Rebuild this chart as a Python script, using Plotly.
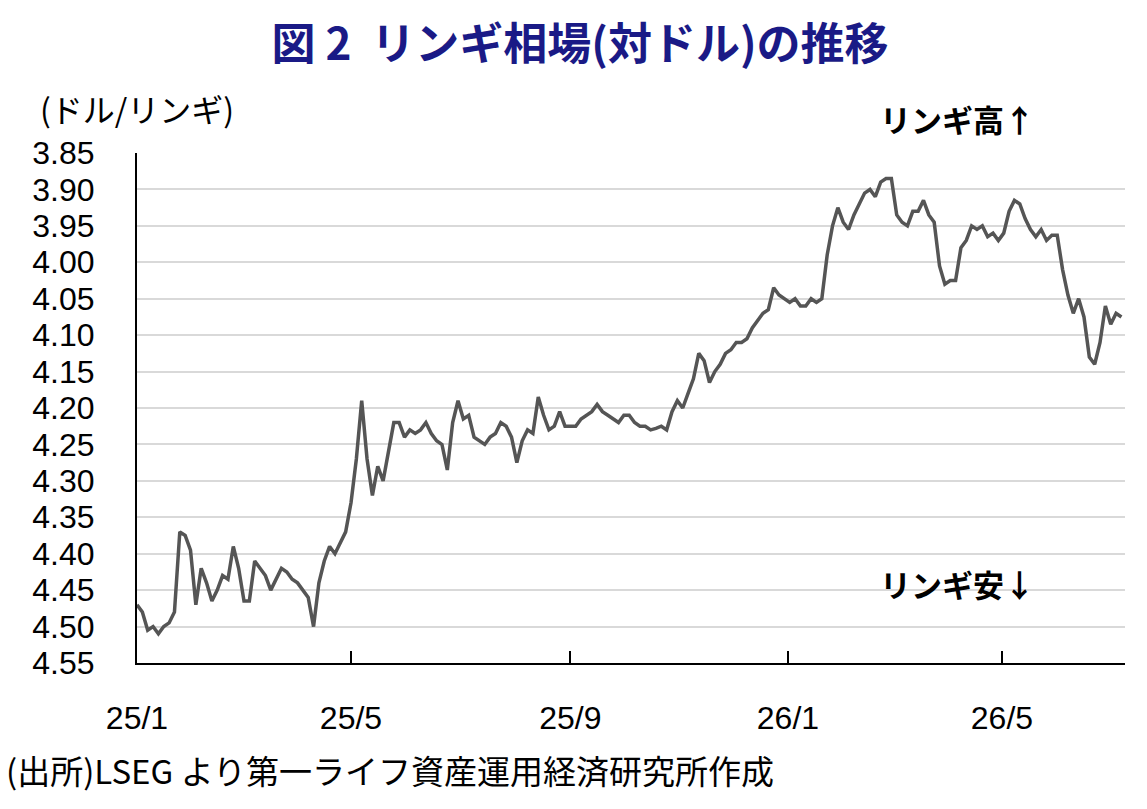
import plotly.graph_objects as go
import pandas as pd

start_date = "2025-01-01"
step = "3D"
rate = [
    4.47, 4.48, 4.505, 4.50, 4.51, 4.50, 4.495, 4.48, 4.37, 4.375,
    4.395, 4.47, 4.42, 4.44, 4.465, 4.45, 4.43, 4.435, 4.39, 4.42,
    4.465, 4.465, 4.41, 4.42, 4.43, 4.45, 4.435, 4.42, 4.425, 4.435,
    4.44, 4.45, 4.46, 4.50, 4.44, 4.41, 4.39, 4.40, 4.385, 4.37,
    4.33, 4.27, 4.19, 4.27, 4.32, 4.28, 4.30, 4.26, 4.22, 4.22,
    4.24, 4.23, 4.235, 4.23, 4.22, 4.235, 4.245, 4.25, 4.285, 4.22,
    4.19, 4.215, 4.21, 4.24, 4.245, 4.25, 4.24, 4.235, 4.22, 4.225,
    4.24, 4.275, 4.245, 4.23, 4.235, 4.185, 4.21, 4.23, 4.225, 4.205,
    4.225, 4.225, 4.225, 4.215, 4.21, 4.205, 4.195, 4.205, 4.21, 4.215,
    4.22, 4.21, 4.21, 4.22, 4.225, 4.225, 4.23, 4.228, 4.225, 4.23,
    4.205, 4.19, 4.20, 4.18, 4.16, 4.125, 4.135, 4.165, 4.15, 4.14,
    4.125, 4.12, 4.11, 4.11, 4.105, 4.09, 4.08, 4.07, 4.065, 4.035,
    4.045, 4.05, 4.055, 4.05, 4.06, 4.06, 4.05, 4.055, 4.05, 3.99,
    3.95, 3.925, 3.945, 3.955, 3.935, 3.92, 3.905, 3.90, 3.91, 3.89,
    3.885, 3.885, 3.935, 3.945, 3.95, 3.93, 3.93, 3.915, 3.935, 3.945,
    4.005, 4.03, 4.025, 4.025, 3.98, 3.97, 3.95, 3.955, 3.95, 3.965,
    3.96, 3.97, 3.96, 3.93, 3.915, 3.92, 3.94, 3.955, 3.965, 3.955,
    3.97, 3.963, 3.963, 4.01, 4.045, 4.07, 4.05, 4.075, 4.13, 4.14,
    4.11, 4.06, 4.085, 4.07, 4.075,
]
dates = pd.date_range(start=start_date, periods=len(rate), freq=step)

y_ticks = [3.85, 3.90, 3.95, 4.00, 4.05, 4.10, 4.15, 4.20, 4.25, 4.30,
           4.35, 4.40, 4.45, 4.50, 4.55]
x_tick_dates = ["2025-01-01", "2025-05-01", "2025-09-01", "2026-01-01", "2026-05-01"]
x_tick_labels = ["25/1", "25/5", "25/9", "26/1", "26/5"]

title_text = "図 2  リンギ相場(対ドル)の推移"
unit_text = "(ドル/リンギ)"
up_text = "リンギ高↑"
down_text = "リンギ安↓"
source_text = "(出所)LSEG より第一ライフ資産運用経済研究所作成"

JP = "Noto Sans CJK JP"
NUM = "Liberation Sans, Arial, sans-serif"

fig = go.Figure()
fig.add_trace(go.Scatter(
    x=dates, y=rate, mode="lines",
    line=dict(color="#555555", width=3.5),
    hoverinfo="skip", showlegend=False,
))

W, H = 1147, 809
L, R, T, B = 137, 22, 153, 146
pw, ph = W - L - R, H - T - B

def px(x):
    return (x - L) / pw

def py(y):
    return (H - B - y) / ph

fig.update_layout(
    width=W, height=H,
    margin=dict(l=L, r=R, t=T, b=B),
    paper_bgcolor="white", plot_bgcolor="white",
    title=dict(text="<b>" + title_text + "</b>", x=580 / W, xanchor="center",
               y=1 - 45 / H, yanchor="middle", yref="container",
               font=dict(family=JP, size=44, color="#1a1a86")),
    xaxis=dict(
        type="date", range=["2025-01-01", "2026-07-09"],
        tickvals=x_tick_dates, ticktext=x_tick_labels,
        ticks="inside", ticklen=12, tickwidth=1.5, tickcolor="#000000",
        showgrid=False, showline=True, linecolor="#000000", linewidth=2,
        tickfont=dict(family=NUM, size=32, color="#000000"),
        ticklabelstandoff=26, zeroline=False,
    ),
    yaxis=dict(
        range=[4.55, 3.85], tickvals=y_ticks, tickformat=".2f",
        showgrid=True, gridcolor="#d9d9d9", gridwidth=1.5,
        showline=True, linecolor="#000000", linewidth=2,
        ticks="", tickfont=dict(family=NUM, size=32, color="#000000"),
        ticklabelstandoff=34, zeroline=False,
    ),
    annotations=[
        dict(text=unit_text, xref="paper", yref="paper", x=px(38), y=py(108),
             xanchor="left", yanchor="middle", showarrow=False,
             font=dict(family=JP, size=32, color="#000000")),
        dict(text="<b>" + up_text + "</b>", xref="paper", yref="paper", x=px(878), y=py(118),
             xanchor="left", yanchor="middle", showarrow=False,
             font=dict(family=JP, size=31, color="#000000")),
        dict(text="<b>" + down_text + "</b>", xref="paper", yref="paper", x=px(878), y=py(583),
             xanchor="left", yanchor="middle", showarrow=False,
             font=dict(family=JP, size=31, color="#000000")),
        dict(text=source_text, xref="paper", yref="paper", x=px(4), y=py(770),
             xanchor="left", yanchor="middle", showarrow=False,
             font=dict(family=JP, size=33, color="#000000")),
    ],
)

fig.write_html("out.html")
